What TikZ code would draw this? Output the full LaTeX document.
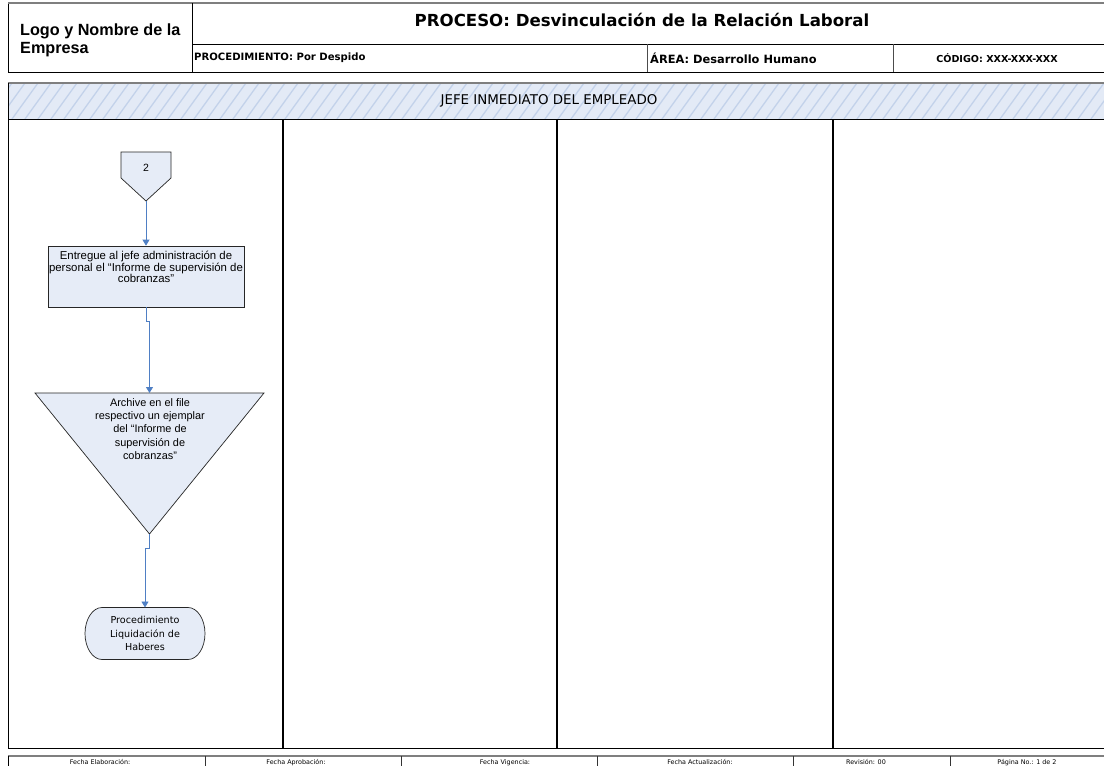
\documentclass[tikz,border=0pt]{standalone}
\usepackage{fontspec}
\setmainfont{Liberation Sans}
\newfontfamily\verd{DejaVu Sans}
\usetikzlibrary{arrows.meta}
\definecolor{shapefill}{HTML}{E6ECF7}
\definecolor{lanefill}{HTML}{E3EAF6}
\definecolor{hatch}{HTML}{C3D2EA}
\definecolor{flowblue}{HTML}{4F7FC4}
\definecolor{rulegray}{HTML}{7F7F7F}
\tikzset{
  frame/.style={draw=black, line width=0.9pt},
  lanerule/.style={draw=black, line width=2pt},
  shapebox/.style={draw=black!85, line width=0.7pt, fill=shapefill},
  flow/.style={draw=flowblue, line width=0.8pt, -{Triangle[length=6pt,width=7pt]}},
  boxtext/.style={align=center, font=\fontsize{11.4}{11.8}\selectfont, inner sep=0pt},
  foottext/.style={font=\verd\fontsize{6.4}{7}\selectfont, inner sep=0pt, anchor=base},
  ghost/.style={inner sep=0pt, outer sep=0pt}
}
\begin{document}
\begin{tikzpicture}[x=1pt, y=-1pt]
\useasboundingbox (0,0) rectangle (1104,766);
\fill[white] (0,0) rectangle (1104,766);

% ---- header block
\draw[frame] (8,72) -- (8,3);
\draw[draw=rulegray, line width=1.2pt] (8,3) -- (1110,3);
\draw[frame] (8,72) -- (1110,72);
\draw[frame] (192,3) -- (192,72);
\draw[frame] (192,44) -- (1110,44);
\draw[draw=black!70, line width=0.9pt] (647,44) -- (647,72);
\draw[draw=black!70, line width=0.9pt] (893,44) -- (893,72);

\node[anchor=north west, align=left, inner sep=0pt, font=\bfseries\fontsize{16.2}{17.5}\selectfont]
  (logo) at (20,24) {Logo y Nombre de la\\Empresa};
\node[inner sep=0pt, font=\verd\bfseries\fontsize{16.6}{18}\selectfont]
  (proc) at (642,20) {PROCESO: Desvinculación de la Relación Laboral};
\node[anchor=west, inner sep=0pt, font=\verd\bfseries\fontsize{10.1}{12}\selectfont]
  (procd) at (194,58) {PROCEDIMIENTO: Por Despido};
\node[anchor=west, inner sep=0pt, font=\verd\bfseries\fontsize{11.4}{13}\selectfont]
  (area) at (650,58) {ÁREA: Desarrollo Humano};
\node[inner sep=0pt, font=\verd\bfseries\fontsize{9.6}{11}\selectfont]
  (cod) at (997,58) {CÓDIGO: XXX-XXX-XXX};

% ---- lane header with diagonal hatching
\fill[lanefill] (8,83) rectangle (1110,119);
\begin{scope}
  \clip (8,83) rectangle (1110,119);
  \foreach \h in {-40,-27,...,1110}
    \draw[hatch, line width=1.3pt] (\h,119) -- ++(26,-36);
\end{scope}
\draw[draw=rulegray, line width=1.2pt] (8,83) -- (1110,83);
\draw[frame] (8,83) -- (8,119);
\draw[frame] (8,119) -- (1110,119);
\node[inner sep=0pt, font=\verd\fontsize{13.4}{15}\selectfont]
  (lane) at (549,101) {JEFE INMEDIATO DEL EMPLEADO};

% ---- lane body
\draw[frame] (8,119) -- (8,748) -- (1110,748);
\draw[lanerule] (283,119) -- (283,748);
\draw[lanerule] (557,119) -- (557,748);
\draw[lanerule] (833,119) -- (833,748);

% ---- footer
\draw[draw=rulegray, line width=1.2pt] (8,756) -- (1110,756);
\draw[frame] (8,756) -- (8,770);
\foreach \s in {205,401,597,793,950}
  \draw[draw=black!80, line width=0.9pt] (\s,756) -- (\s,770);
\node[foottext] (f1) at (100,764) {Fecha Elaboración:};
\node[foottext] (f2) at (296,764) {Fecha Aprobación:};
\node[foottext] (f3) at (505,764) {Fecha Vigencia:};
\node[foottext] (f4) at (700,764) {Fecha Actualización:};
\node[foottext] (f5) at (866,764) {Revisión: 00};
\node[foottext] (f6) at (1027,764) {Página No.: 1 de 2};

% ---- off-page connector "2"
\node[ghost, minimum width=50pt, minimum height=49pt] (conn) at (146,176.5) {};
\draw[shapebox] (conn.north west) -- (conn.north east) -- ([yshift=-26pt]conn.north east)
  -- (conn.south) -- ([yshift=-26pt]conn.north west) -- cycle;
\node[inner sep=0pt, font=\fontsize{10.5}{12}\selectfont] (connlbl) at (146,168) {2};

% ---- process box
\node[shapebox, minimum width=196pt, minimum height=61pt, inner sep=0pt] (deliver) at (146,276.5) {};
\node[boxtext] (deliverlbl) at (146,267) {Entregue al jefe administración de\\personal el “Informe de supervisión de\\cobranzas”};

% ---- archive (inverted triangle)
\node[ghost, minimum width=229pt, minimum height=141pt] (archive) at (149.5,463.5) {};
\draw[shapebox] (archive.north west) -- (archive.north east) -- (archive.south) -- cycle;
\node[boxtext, font=\fontsize{10.9}{13.4}\selectfont] (archivelbl) at (150,429)
  {Archive en el file\\respectivo un ejemplar\\del “Informe de\\supervisión de\\cobranzas”};

% ---- terminator
\node[ghost, minimum width=120pt, minimum height=52pt] (liq) at (145,633.5) {};
\draw[shapebox] ([xshift=17pt]liq.north west) -- ([xshift=-17pt]liq.north east)
  arc[start angle=-90, end angle=90, x radius=17, y radius=26]
  -- ([xshift=17pt]liq.south west)
  arc[start angle=90, end angle=270, x radius=17, y radius=26] -- cycle;
\node[boxtext, font=\verd\fontsize{9.6}{13.4}\selectfont] (liqlbl) at (145,633.5)
  {Procedimiento\\Liquidación de\\Haberes};

% ---- connectors
\draw[flow] (conn.south) -- (deliver.north);
\draw[flow] (deliver.south) -- ++(0,14) -| (archive.north);
\draw[flow] (archive.south) -- ++(0,14) -| (liq.north);
\end{tikzpicture}
\end{document}
